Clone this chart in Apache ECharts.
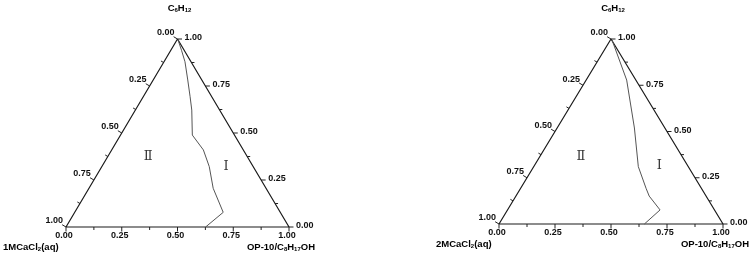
<!DOCTYPE html>
<html>
<head>
<meta charset="utf-8">
<script src="https://cdn.jsdelivr.net/npm/echarts@6/dist/echarts.min.js"></script>
<style>
html, body { margin: 0; padding: 0; background: #fff; }
#chart { width: 751px; height: 259px; }
</style>
</head>
<body>
<div id="chart"></div>
<script>
// ternary points as [OP-10/C8H17OH fraction, C6H12 fraction], CaCl2(aq) is the rest
var curve1M = [[0.005, 0.995], [0.048, 0.94], [0.094, 0.879], [0.155, 0.782], [0.21, 0.693],
    [0.253, 0.622], [0.308, 0.516], [0.322, 0.489], [0.411, 0.41], [0.482, 0.321],
    [0.557, 0.206], [0.666, 0.078], [0.626, 0.0]];
var curve2M = [[0.007, 0.995], [0.181, 0.778], [0.345, 0.519], [0.467, 0.31], [0.56, 0.193],
    [0.595, 0.151], [0.681, 0.076], [0.649, 0.0]];
var curves = [curve1M, curve2M];

var tickValues = [0, 0.125, 0.25, 0.375, 0.5, 0.625, 0.75, 0.875, 1];
var tickLabels = ['0.00', '0.25', '0.50', '0.75', '1.00'];

var topNames = ['{n|C}{s|6}{n|H}{s|12}', '{n|C}{s|6}{n|H}{s|12}'];
var leftNames = ['{n|1MCaCl}{s|2}{n|(aq)}', '{n|2MCaCl}{s|2}{n|(aq)}'];
var rightNames = ['{n|OP-10/C}{s|8}{n|H}{s|17}{n|OH}', '{n|OP-10/C}{s|8}{n|H}{s|17}{n|OH}'];

// region names with their [OP fraction, C6H12 fraction]
var regions1M = [['Ⅱ', 0.182, 0.372], ['Ⅰ', 0.557, 0.321]];
var regions2M = [['Ⅱ', 0.184, 0.364], ['Ⅰ', 0.558, 0.315]];
var regionSets = [regions1M, regions2M];

// ternary -> cartesian (triangle left (0,0), right (1,0), apex (0.5,1))
function toXY(b, c) {
    return [b + c / 2, c];
}

var grids = [
    { left: 66, top: 39, width: 223, height: 188 },
    { left: 499, top: 39, width: 224, height: 185 }
];

var numFont = 'bold 9px "Liberation Sans", Arial, sans-serif';

function tickSeries(side, gi) {
    return {
        type: 'custom',
        xAxisIndex: gi,
        yAxisIndex: gi,
        silent: true,
        clip: false,
        data: tickValues.map(function (v) { return [v]; }),
        renderItem: function (params, api) {
            var v = api.value(0);
            var bc = side === 'left' ? [0, 1 - v] : side === 'right' ? [1 - v, v] : [v, 0];
            var p = api.coord(toXY(bc[0], bc[1]));
            var major = params.dataIndex % 2 === 0;
            var len = major ? 4.5 : 3;
            var d = side === 'left' ? [-0.86, -0.51] : side === 'right' ? [1, 0] : [0, 1];
            var kids = [{
                type: 'line',
                shape: { x1: p[0], y1: p[1], x2: p[0] + d[0] * len, y2: p[1] + d[1] * len },
                style: { stroke: '#222', lineWidth: 1 }
            }];
            if (major) {
                var txt = tickLabels[params.dataIndex / 2];
                var pos, align;
                if (side === 'left') { pos = [p[0] - 3, p[1] - 6]; align = 'right'; }
                else if (side === 'right') { pos = [p[0] + 7, p[1] - 1]; align = 'left'; }
                else { pos = [p[0] - 2, p[1] + 9]; align = 'center'; }
                kids.push({
                    type: 'text',
                    x: pos[0],
                    y: pos[1],
                    style: { text: txt, font: numFont, fill: '#111', align: align, verticalAlign: 'middle' }
                });
            }
            return { type: 'group', children: kids };
        }
    };
}

var series = [];
var graphics = [];
var richStyle = {
    n: { fontSize: 9.5, fontWeight: 'bold', fontFamily: '"Liberation Sans", Arial, sans-serif', color: '#111' },
    s: { fontSize: 6, fontWeight: 'bold', fontFamily: '"Liberation Sans", Arial, sans-serif', color: '#111',
         verticalAlign: 'bottom', padding: [4, 0, 0, 0] }
};

grids.forEach(function (g, gi) {
    series.push({
        type: 'line',
        xAxisIndex: gi,
        yAxisIndex: gi,
        clip: false,
        silent: true,
        symbol: 'none',
        data: [toXY(0, 0), toXY(1, 0), toXY(0, 1), toXY(0, 0)],
        lineStyle: { color: '#1a1a1a', width: 1.2 }
    });
    series.push({
        type: 'line',
        xAxisIndex: gi,
        yAxisIndex: gi,
        clip: false,
        silent: true,
        symbol: 'none',
        data: curves[gi].map(function (p) { return toXY(p[0], p[1]); }),
        lineStyle: { color: '#555', width: 1 }
    });
    series.push(tickSeries('left', gi), tickSeries('right', gi), tickSeries('bottom', gi));
    series.push({
        type: 'scatter',
        xAxisIndex: gi,
        yAxisIndex: gi,
        silent: true,
        symbolSize: 0,
        data: regionSets[gi].map(function (r) { return { name: r[0], value: toXY(r[1], r[2]) }; }),
        label: {
            show: true,
            position: 'inside',
            formatter: '{b}',
            fontFamily: '"Liberation Serif", "DejaVu Serif", serif',
            fontSize: 13,
            color: '#000'
        }
    });

    var cx = g.left + g.width / 2;
    var by = g.top + g.height;
    graphics.push({
        type: 'text', x: cx + 2, y: 8,
        style: { text: topNames[gi], rich: richStyle, align: 'center', verticalAlign: 'middle' }
    });
    graphics.push({
        type: 'text', x: g.left - 63, y: by + 20,
        style: { text: leftNames[gi], rich: richStyle, align: 'left', verticalAlign: 'middle' }
    });
    graphics.push({
        type: 'text', x: g.left + g.width + 26, y: by + 20,
        style: { text: rightNames[gi], rich: richStyle, align: 'right', verticalAlign: 'middle' }
    });
});

var chart = echarts.init(document.getElementById('chart'));
chart.setOption({
    animation: false,
    backgroundColor: '#fff',
    grid: grids,
    xAxis: grids.map(function (g, i) { return { type: 'value', gridIndex: i, min: 0, max: 1, show: false }; }),
    yAxis: grids.map(function (g, i) { return { type: 'value', gridIndex: i, min: 0, max: 1, show: false }; }),
    graphic: graphics,
    series: series
});
</script>
</body>
</html>
